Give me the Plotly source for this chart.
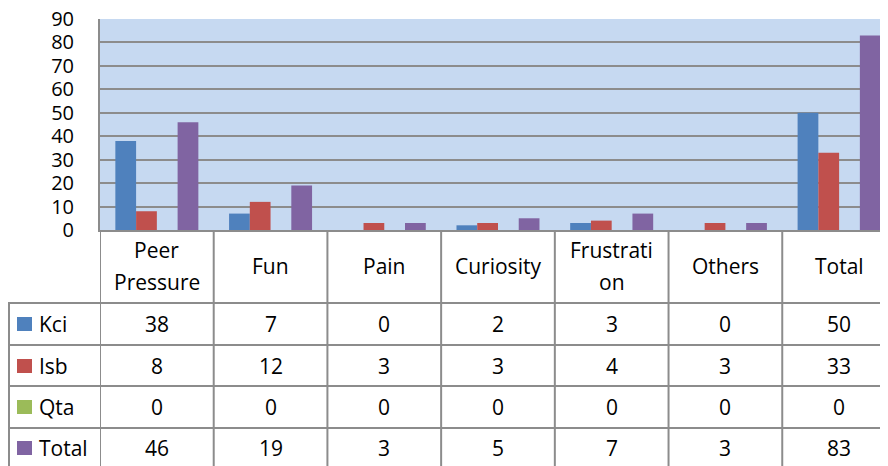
import plotly.graph_objects as go

categories = ["Peer Pressure", "Fun", "Pain", "Curiosity", "Frustration", "Others", "Total"]
header_lines = [["Peer", "Pressure"], ["Fun"], ["Pain"], ["Curiosity"], ["Frustrati", "on"], ["Others"], ["Total"]]
series_names = ["Kci", "Isb", "Qta", "Total"]
kci = [38, 7, 0, 2, 3, 0, 50]
isb = [8, 12, 3, 3, 4, 3, 33]
qta = [0, 0, 0, 0, 0, 0, 0]
total = [46, 19, 3, 5, 7, 3, 83]
colors = ["#4F81BD", "#C0504D", "#9BBB59", "#8064A2"]
y_ticks = [0, 10, 20, 30, 40, 50, 60, 70, 80, 90]

# page has an 8px body margin, so work in reference pixels shifted by 8
OFF = 8
W, H = 888 - OFF, 466 - OFF
FONT = "Open Sans"
GRID = "#8C8C8C"


def px(x):
    return max(0.0, (x - OFF) / W)


def py(y):
    return min(1.0, 1 - (y - OFF) / H)


x_idx = list(range(len(categories)))
fig = go.Figure()
for name, vals, c in zip(series_names, [kci, isb, qta, total], colors):
    fig.add_trace(go.Bar(name=name, x=x_idx, y=vals, marker=dict(color=c, line=dict(width=0))))

# data table lines
shapes = []
line = dict(color=GRID, width=2)
for y in [303, 345, 386, 428]:
    shapes.append(dict(type="line", xref="paper", yref="paper", x0=px(8), x1=1, y0=py(y), y1=py(y), line=line))
shapes.append(dict(type="line", xref="paper", yref="paper", x0=px(9), x1=px(9), y0=py(303), y1=0, line=line))
for i in range(len(categories)):
    shapes.append(dict(type="line", xref="x", yref="paper", x0=i - 0.5, x1=i - 0.5,
                       y0=py(230), y1=0, line=line))
# legend keys
row_centers = [324, 366, 407, 448]
for c, yc in zip(colors, row_centers):
    shapes.append(dict(type="rect", xref="paper", yref="paper", x0=px(17), x1=px(32),
                       y0=py(yc + 7), y1=py(yc - 7), fillcolor=c, line=dict(width=0)))

ann = []
font = dict(family=FONT, size=21, color="#000000")
for i, lines in enumerate(header_lines):
    ys = [266] if len(lines) == 1 else [250, 282]
    for t, yy in zip(lines, ys):
        ann.append(dict(x=i, y=py(yy), xref="x", yref="paper", text=t, showarrow=False,
                        font=font, xanchor="center", yanchor="middle"))
for name, yc, vals in zip(series_names, row_centers, [kci, isb, qta, total]):
    ann.append(dict(x=px(37), y=py(yc), xref="paper", yref="paper", text=name, showarrow=False,
                    font=font, xanchor="left", yanchor="middle"))
    for i, v in enumerate(vals):
        ann.append(dict(x=i, y=py(yc), xref="x", yref="paper", text=str(v), showarrow=False,
                        font=font, xanchor="center", yanchor="middle"))

fig.update_layout(
    width=W, height=H,
    margin=dict(l=0, r=0, t=0, b=0),
    paper_bgcolor="white", plot_bgcolor="#C6D9F1",
    barmode="group", bargap=0.27, bargroupgap=0,
    showlegend=False,
    font=dict(family=FONT, size=21, color="#000000"),
    xaxis=dict(domain=[px(100), 1], range=[-0.5, 6.43], showticklabels=False, showgrid=False,
               zeroline=False, showline=True, linecolor=GRID, linewidth=2, fixedrange=True),
    yaxis=dict(domain=[py(230), py(19)], range=[0, 90], tickvals=y_ticks, showgrid=True,
               gridcolor=GRID, gridwidth=1.5, zeroline=False, showline=True, linecolor=GRID,
               linewidth=2, ticks="", ticklabelstandoff=20, automargin=False,
               ticklabeloverflow="allow", tickfont=dict(family=FONT, size=20)),
    shapes=shapes, annotations=ann,
)
fig.write_html("out.html")
